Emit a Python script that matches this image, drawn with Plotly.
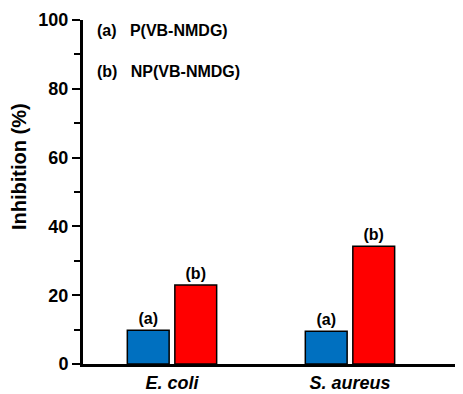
import plotly.graph_objects as go

categories = ["<i>E. coli</i>", "<i>S. aureus</i>"]
series_a_name = "P(VB-NMDG)"
series_b_name = "NP(VB-NMDG)"
series_a = [9.8, 9.5]
series_b = [23.0, 34.2]
labels_a = ["(a)", "(a)"]
labels_b = ["(b)", "(b)"]
y_ticks = [0, 20, 40, 60, 80, 100]
y_title = "Inhibition (%)"

FONT = "Liberation Sans, Arial, sans-serif"

fig = go.Figure()
for vals, labs, nm, col in [(series_a, labels_a, series_a_name, "#0070C0"),
                            (series_b, labels_b, series_b_name, "#FF0000")]:
    fig.add_trace(go.Bar(
        x=categories, y=vals, name=nm,
        marker=dict(color=col, line=dict(color="black", width=1.5)),
        text=labs, textposition="outside", cliponaxis=False,
        textfont=dict(family=FONT, size=16, color="black", weight="bold"),
    ))

# page body has an 8px margin, so the figure is 8px smaller and offsets reduced
fig.update_layout(
    width=455, height=386,
    margin=dict(l=75, r=0, t=12, b=30),
    paper_bgcolor="white", plot_bgcolor="white",
    barmode="group", bargap=0.466, bargroupgap=0.12,
    showlegend=False,
    font=dict(family=FONT, color="black"),
    xaxis=dict(
        range=[-0.5, 1.635], automargin=False,
        showline=True, linecolor="black", linewidth=3,
        ticks="", showgrid=False, zeroline=False,
        ticklabelstandoff=0,
        tickfont=dict(family=FONT, size=18, color="black", weight="bold"),
    ),
    yaxis=dict(
        range=[0, 100], tickvals=y_ticks, automargin=False,
        showline=True, linecolor="black", linewidth=3,
        ticks="outside", ticklen=8, tickwidth=2, tickcolor="black",
        minor=dict(dtick=10, ticks="outside", ticklen=6, tickwidth=1.5, tickcolor="black"),
        showgrid=False, zeroline=False,
        tickfont=dict(family=FONT, size=18, color="black", weight="bold"),
    ),
)

# y-axis title (placed slightly above the plot centre, as in the reference)
fig.add_annotation(
    xref="paper", yref="paper",
    x=(19 - 83) / 380, y=(364 - 167) / 344,
    xanchor="center", yanchor="middle", showarrow=False, textangle=-90,
    text=f"<b>{y_title}</b>",
    font=dict(family=FONT, size=20, color="black"),
)

legend_rows = [("(a)", series_a_name, 30), ("(b)", series_b_name, 71)]
for tag, name, ypix in legend_rows:
    fig.add_annotation(
        xref="paper", yref="paper",
        x=(95 - 83) / 380, y=(364 - ypix) / 344,
        xanchor="left", yanchor="middle", showarrow=False,
        text=f"<b>{tag}&nbsp;&nbsp;&nbsp;{name}</b>",
        font=dict(family=FONT, size=16, color="black"),
    )

fig.write_html("out.html")
